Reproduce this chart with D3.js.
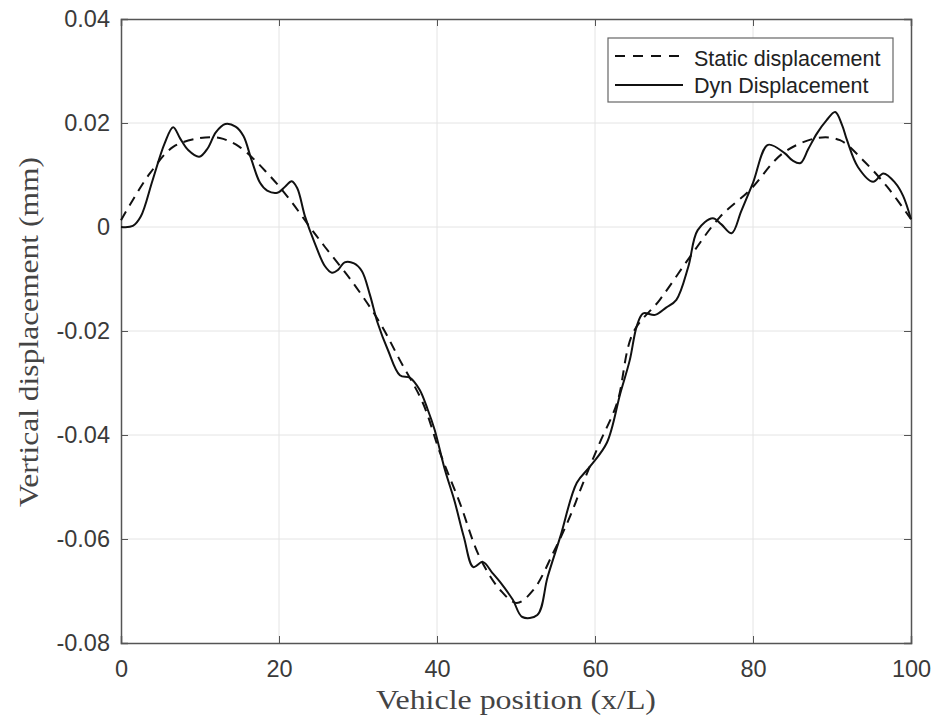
<!DOCTYPE html>
<html><head><meta charset="utf-8">
<script src="https://cdn.jsdelivr.net/npm/d3@7/dist/d3.min.js"></script>
<style>body{margin:0;background:#fff;}svg{display:block;}</style>
</head><body>
<svg id="c" width="943" height="721"></svg>
<script>
const xTicks = [0, 20, 40, 60, 80, 100];
const yTicks = [0.04, 0.02, 0, -0.02, -0.04, -0.06, -0.08];
const yTickLabels = ["0.04", "0.02", "0", "-0.02", "-0.04", "-0.06", "-0.08"];
const seriesNames = ["Static displacement", "Dyn Displacement"];

const staticX = [0, 1.5, 3.7, 6.6, 10, 12.5, 15, 18.5, 21.4, 23.9, 25.8, 29.4, 32.8, 35.3, 38.2, 40.4, 42.9, 45.4, 48, 50.1, 52.2, 54.7, 56.8, 58.5, 60.6, 62.8, 64.8, 68.2, 72, 75.8, 79.6, 83.8, 88.1, 91, 93.9, 97, 100];
const staticY = [0.0013, 0.0052, 0.0104, 0.0154, 0.0171, 0.0171, 0.0154, 0.0104, 0.0052, 0.0, -0.0038, -0.0108, -0.0185, -0.0256, -0.0338, -0.0435, -0.0531, -0.0635, -0.0698, -0.0723, -0.0698, -0.0627, -0.0558, -0.0492, -0.0415, -0.0338, -0.0204, -0.014, -0.0058, 0.0019, 0.0071, 0.0142, 0.0171, 0.0167, 0.0129, 0.0077, 0.0015];

const dynX = [0, 1.5, 2.5, 4, 5.5, 6.6, 7.5, 8.5, 9.9, 11, 12, 13.2, 14.5, 15.5, 16.5, 17.6, 18.5, 19.8, 20.8, 21.6, 22.3, 23.3, 24.5, 25.8, 26.7, 27.5, 28.3, 29.5, 30.5, 31.5, 32.5, 33.8, 35.3, 36.6, 37.8, 38.8, 39.7, 41, 42.2, 43.4, 44.6, 45.8, 47, 48, 49.6, 50.8, 52.7, 54, 55.6, 57.7, 59.4, 61.5, 63.2, 64.4, 65.3, 66.1, 67.6, 69, 70.3, 71.8, 73, 74.9, 76, 77.3, 78.5, 80, 81.9, 84, 85, 86, 87, 88.1, 89.3, 90.4, 91.3, 91.9, 93.3, 95.2, 96.5, 98, 99, 100];
const dynY = [0, 0.0002, 0.002, 0.009, 0.016, 0.0192, 0.017, 0.0148, 0.0135, 0.0152, 0.0182, 0.0198, 0.0193, 0.0175, 0.013, 0.0085, 0.007, 0.0066, 0.0078, 0.0088, 0.0075, 0.002, -0.003, -0.0075, -0.0088, -0.0082, -0.0068, -0.007, -0.0085, -0.013, -0.0185, -0.0237, -0.0285, -0.029, -0.0313, -0.035, -0.039, -0.0467, -0.0526, -0.0596, -0.0654, -0.0644, -0.0665, -0.0683, -0.0717, -0.075, -0.0746, -0.0673, -0.0596, -0.0492, -0.046, -0.0415, -0.032, -0.0256, -0.019, -0.0166, -0.0169, -0.0155, -0.014, -0.0077, -0.0006, 0.0017, 0.0005, -0.0012, 0.003, 0.0085, 0.0158, 0.0142, 0.0128, 0.0123, 0.015, 0.018, 0.0205, 0.0221, 0.0195, 0.0167, 0.0115, 0.0087, 0.0103, 0.0085, 0.006, 0.0015];

const L = 121, R = 911, T = 19, B = 643;
const svg = d3.select("#c");
const x = d3.scaleLinear().domain([0, 100]).range([L, R]);
const y = d3.scaleLinear().domain([-0.08, 0.04]).range([B, T]);

const gridC = "#e4e4e4", axC = "#555";
svg.append("g").selectAll("line").data(xTicks.slice(1, -1)).join("line")
  .attr("x1", d => x(d)).attr("x2", d => x(d)).attr("y1", T).attr("y2", B)
  .attr("stroke", gridC).attr("stroke-width", 1);
svg.append("g").selectAll("line").data(yTicks.slice(1, -1)).join("line")
  .attr("x1", L).attr("x2", R).attr("y1", d => y(d)).attr("y2", d => y(d))
  .attr("stroke", gridC).attr("stroke-width", 1);

const tk = 7;
const xa = d3.axisBottom(x).tickValues(xTicks).tickSize(-tk).tickPadding(17).tickFormat(d3.format("d"));
const gx = svg.append("g").attr("transform", `translate(0,${B})`).call(xa);
const xt = d3.axisTop(x).tickValues(xTicks).tickSize(-tk).tickFormat("");
const gxt = svg.append("g").attr("transform", `translate(0,${T})`).call(xt);
const ya = d3.axisLeft(y).tickValues(yTicks).tickSize(-tk).tickPadding(11).tickFormat((d, i) => yTickLabels[i]);
const gy = svg.append("g").attr("transform", `translate(${L},0)`).call(ya);
const yr = d3.axisRight(y).tickValues(yTicks).tickSize(-tk).tickFormat("");
const gyr = svg.append("g").attr("transform", `translate(${R},0)`).call(yr);
[gx, gxt, gy, gyr].forEach(g => {
  g.select(".domain").attr("stroke", axC).attr("stroke-width", 1.5);
  g.selectAll(".tick line").attr("stroke", axC).attr("stroke-width", 1);
  g.selectAll("text").attr("fill", "#3a3a3a").style("font-family", "'Liberation Sans', Arial, sans-serif").style("font-size", "23.5px");
});

const line = d3.line().x(d => x(d[0])).y(d => y(d[1])).curve(d3.curveCatmullRom.alpha(0.5));
const sData = staticX.map((v, i) => [v, staticY[i]]);
const dData = dynX.map((v, i) => [v, dynY[i]]);
svg.append("path").datum(sData).attr("d", line).attr("fill", "none")
  .attr("stroke", "#111").attr("stroke-width", 2).attr("stroke-dasharray", "10,7");
svg.append("path").datum(dData).attr("d", line).attr("fill", "none")
  .attr("stroke", "#111").attr("stroke-width", 2);

const serif = "'Liberation Serif', 'Times New Roman', serif";
svg.append("text").attr("x", 516).attr("y", 709).attr("text-anchor", "middle")
  .attr("textLength", 280).attr("lengthAdjust", "spacingAndGlyphs")
  .style("font-family", serif).style("font-size", "27px").attr("fill", "#444")
  .text("Vehicle position (x/L)");
svg.append("text").attr("transform", `translate(38,332) rotate(-90)`).attr("text-anchor", "middle")
  .attr("textLength", 350).attr("lengthAdjust", "spacingAndGlyphs")
  .style("font-family", serif).style("font-size", "27px").attr("fill", "#444")
  .text("Vertical displacement (mm)");

const lg = svg.append("g");
lg.append("rect").attr("x", 608).attr("y", 38).attr("width", 285).attr("height", 64)
  .attr("fill", "#fff").attr("stroke", "#666").attr("stroke-width", 1.2);
const rows = [{ dash: "10,8", ly: 56, ty: 66 }, { dash: null, ly: 85, ty: 93 }];
rows.forEach((r, i) => {
  const ln = lg.append("line").attr("x1", 615).attr("x2", 683).attr("y1", r.ly).attr("y2", r.ly)
    .attr("stroke", "#111").attr("stroke-width", 2);
  if (r.dash) ln.attr("stroke-dasharray", r.dash);
  lg.append("text").attr("x", 694).attr("y", r.ty)
    .style("font-family", "'Liberation Sans', Arial, sans-serif").style("font-size", "21.5px").attr("fill", "#222")
    .text(seriesNames[i]);
});
</script>
</body></html>
